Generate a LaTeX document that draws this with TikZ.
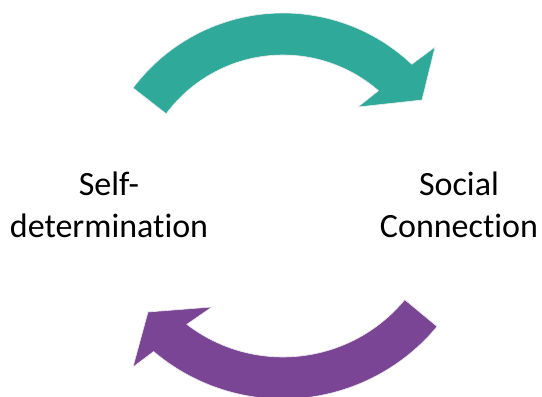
\documentclass[tikz,border=0pt]{standalone}
\usepackage{fontspec}
\setmainfont[Ligatures=NoCommon]{Carlito}
\usetikzlibrary{calc}
\definecolor{tealarrow}{RGB}{46,169,154}
\definecolor{purplearrow}{RGB}{122,69,148}
\tikzset{
  arrowshape/.style={draw=white!85!gray, line width=0.6pt},
  label/.style={align=center, font=\fontsize{34}{41.5}\selectfont, inner sep=0pt, anchor=base}
}
\begin{document}
\begin{tikzpicture}[x=1pt,y=1pt]
\useasboundingbox (0,0) rectangle (542,397);
% top arrow
\coordinate (ct) at (283,196.5);
\fill[tealarrow, arrowshape]
  ($(ct)+(143.1:187.5)$) arc[start angle=143.1, end angle=46.6, radius=187.5]
  -- (435,350) -- (422,297) -- (358,290)
  -- ($(ct)+(49:145.5)$) arc[start angle=49, end angle=143.4, radius=145.5]
  -- cycle;
% bottom arrow
\coordinate (cb) at (283,198);
\fill[purplearrow, arrowshape]
  ($(cb)+(-39.6:159)$) -- ($(cb)+(-39.6:200)$)
  arc[start angle=-39.6, end angle=-130.3, radius=200]
  -- (133,30) -- (148,85) -- (212,90)
  -- ($(cb)+(-127.5:158)$) arc[start angle=-127.5, end angle=-39.6, radius=158]
  -- cycle;
\node[label] (sd) at (109,159.5) {Self-\\determination};
\node[label] (sc) at (459,159.5) {Social\\Connection};
\end{tikzpicture}
\end{document}
